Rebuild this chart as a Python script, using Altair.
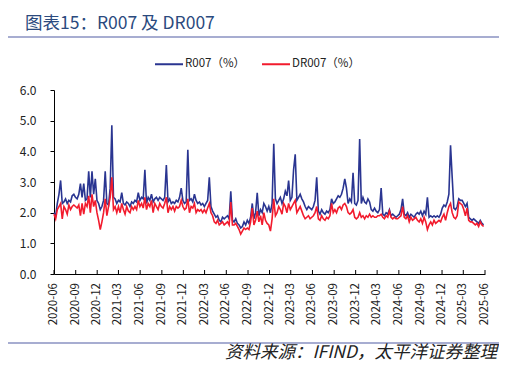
import altair as alt
import pandas as pd

# Weekly readings (from 2020-06-01), %
r007 = [
    2.0, 1.9, 2.3, 2.6, 3.05, 2.3, 2.35, 2.45, 2.3, 2.4, 2.35, 2.55, 2.6,
    2.5, 2.45, 2.6, 2.95, 2.5, 2.95, 2.4, 2.45, 3.35, 2.5, 3.35, 2.6, 3.1,
    2.4, 2.3, 2.1, 2.2, 2.4, 3.35, 2.3, 2.25, 2.8, 4.85, 2.5, 2.45, 2.3,
    2.4, 2.35, 2.65, 2.3, 2.25, 2.35, 2.3, 2.2, 2.35, 2.3, 2.4, 2.35, 2.65,
    2.4, 2.5, 2.45, 3.4, 2.3, 2.5, 2.4, 2.6, 2.35, 2.45, 2.5, 2.4, 2.5,
    2.45, 2.4, 2.5, 3.55, 2.35, 2.45, 2.3, 2.35, 2.3, 2.4, 2.35, 2.5, 2.8,
    2.4, 2.3, 2.35, 4.05, 2.4, 2.45, 2.35, 2.6, 2.4, 2.3, 2.35, 2.25, 2.3,
    2.2, 2.3, 2.4, 3.15, 2.2, 2.05, 1.95, 1.85, 1.9, 1.75, 1.7, 1.85, 1.8,
    1.85, 1.9, 1.8, 2.7, 1.75, 1.7, 1.8, 1.65, 1.6, 1.5, 1.55, 1.7, 1.6,
    1.75, 1.65, 1.85, 2.3, 1.8, 2.0, 2.65, 1.9, 2.1, 2.0, 2.3, 2.2, 2.05,
    2.2, 2.0, 2.3, 4.25, 2.45, 2.3, 2.4, 2.5, 2.3, 2.45, 2.7, 2.55, 3.05,
    2.4, 2.5, 3.4, 3.9, 2.4, 2.5, 2.6, 2.45, 2.35, 2.2, 2.1, 2.2, 2.15,
    2.1, 2.2, 2.4, 3.15, 2.05, 1.95, 2.1, 2.0, 1.95, 2.05, 2.0, 2.1, 2.45,
    2.3, 2.35, 2.45, 2.55, 2.5, 2.6, 2.8, 3.1, 2.8, 2.3, 2.45, 2.35, 3.3,
    2.3, 2.25, 2.4, 4.4, 2.3, 2.5, 2.35, 2.3, 2.45, 2.35, 2.1, 2.05, 2.15,
    2.05, 2.0, 2.1, 2.8, 1.95, 1.9, 2.0, 1.95, 2.1, 1.9, 1.95, 1.9, 1.85,
    1.9, 1.95, 2.1, 2.45, 1.95, 1.9, 2.0, 1.85, 1.95, 1.9, 1.85, 1.95, 2.0,
    1.95, 2.05, 1.9, 2.05, 1.95, 2.5, 1.85, 1.9, 1.85, 1.9, 1.85, 1.9, 1.85,
    1.95, 2.15, 2.25, 2.2, 2.35, 2.6, 4.2, 3.15, 2.15, 2.1, 2.2, 2.45, 2.4,
    2.4, 2.3, 2.2, 2.3, 1.85, 1.8, 1.75, 1.8, 1.75, 1.7, 1.65, 1.75, 1.65, 1.6,
]
dr007 = [
    1.95, 1.8, 2.1, 2.2, 2.3, 1.8, 2.2, 2.1, 1.95, 2.25, 2.1, 2.2, 2.25,
    2.2, 2.15, 2.25, 1.9, 2.3, 1.95, 2.3, 2.2, 2.55, 2.0, 2.6, 2.2, 2.4,
    2.0, 1.75, 1.45, 1.7, 2.0, 2.45, 1.9, 2.2, 2.5, 3.15, 2.1, 2.2, 2.0,
    2.2, 2.0, 2.3, 2.1, 1.95, 2.2, 2.05, 2.0, 2.2, 2.1, 2.2, 2.1, 2.4,
    2.2, 2.3, 2.15, 2.5, 2.1, 2.3, 2.2, 2.4, 2.0, 2.3, 2.2, 2.1, 2.3,
    2.2, 2.15, 2.3, 2.5, 2.0, 2.2, 2.1, 2.2, 2.05, 2.2, 2.15, 2.2, 2.4,
    2.2, 2.1, 2.15, 2.45, 2.0, 2.2, 2.15, 2.3, 2.0, 2.1, 2.05, 2.1, 2.0,
    2.1, 2.0, 2.15, 2.3, 2.0, 1.9, 1.7, 1.65, 1.75, 1.6, 1.65, 1.7, 1.6,
    1.65, 1.7, 1.6, 2.35, 1.6, 1.6, 1.65, 1.55, 1.45, 1.3, 1.4, 1.5, 1.45,
    1.5, 1.45, 1.7, 2.15, 1.6, 1.75, 2.05, 1.7, 1.9, 1.6, 2.0, 1.75, 1.65,
    1.6, 1.4, 1.8, 2.45, 1.9, 2.0, 2.2, 2.1, 1.95, 2.3, 2.2, 2.0, 2.3,
    2.1, 2.2, 2.3, 2.4, 2.0, 2.1, 2.2, 2.05, 1.9, 1.8, 1.85, 1.9, 1.8,
    1.85, 1.9, 2.0, 2.2, 1.8, 1.75, 1.9, 1.8, 1.75, 1.85, 1.8, 1.9, 2.3,
    2.0, 2.1, 2.0, 2.15, 2.2, 2.1, 2.25, 2.3, 2.2, 2.0, 1.95, 2.0, 2.1,
    1.85, 1.8, 1.85, 2.0, 1.85, 1.9, 1.8, 1.9, 1.85, 1.95, 1.85, 1.9, 1.85,
    1.85, 1.9, 1.9, 1.95, 1.85, 1.8, 1.9, 1.85, 2.05, 1.85, 1.8, 1.85, 1.8,
    1.8, 1.85, 1.9, 2.2, 1.85, 1.8, 1.9, 1.7, 1.85, 1.75, 1.8, 1.85, 1.75,
    1.7, 1.8, 1.65, 1.85, 1.7, 1.45, 1.6, 1.7, 1.6, 1.75, 1.65, 1.7, 1.75,
    1.7, 1.85, 1.95, 1.75, 2.0, 2.2, 2.3, 2.0, 1.85, 1.8, 1.9, 2.35, 2.3,
    2.25, 2.1, 1.9, 2.15, 1.75, 1.7, 1.7, 1.65, 1.6, 1.65, 1.55, 1.7, 1.6, 1.55,
]
tick_dates = [
    "2020-06-01", "2020-09-01", "2020-12-01", "2021-03-01", "2021-06-01",
    "2021-09-01", "2021-12-01", "2022-03-01", "2022-06-01", "2022-09-01",
    "2022-12-01", "2023-03-01", "2023-06-01", "2023-09-01", "2023-12-01",
    "2024-03-01", "2024-06-01", "2024-09-01", "2024-12-01", "2025-03-01",
    "2025-06-01",
]
tick_labels = [d[:7] for d in tick_dates]
series_names = ["R007（%）", "DR007（%）"]
series_colors = ["#2A3591", "#F21B2D"]

dates = pd.date_range("2020-06-01", periods=len(r007), freq="7D")
df_r = pd.DataFrame({"date": dates, "value": r007, "series": series_names[0]})
df_d = pd.DataFrame({"date": dates, "value": dr007, "series": series_names[1]})
ticks_df = pd.DataFrame({"date": pd.to_datetime(tick_dates), "label": tick_labels})

W, H = 431, 184
FONT = "Noto Sans CJK SC"

xscale = alt.Scale(domain=[tick_dates[0], tick_dates[-1]])
color = alt.Color(
    "series:N",
    scale=alt.Scale(domain=series_names, range=series_colors),
    legend=alt.Legend(
        title=None, orient="none", legendX=100, legendY=-41, direction="horizontal",
        symbolType="stroke", symbolSize=784, symbolStrokeWidth=2,
        labelFont=FONT, labelFontSize=11.5, labelColor="#222", labelOffset=1,
        columnPadding=12,
    ),
)
xenc = alt.X(
    "date:T", scale=xscale,
    axis=alt.Axis(
        title=None, values=tick_dates, ticks=False, labels=False,
        domainColor="#000", grid=False,
    ),
)
yenc = alt.Y(
    "value:Q", scale=alt.Scale(domain=[0, 6]),
    axis=alt.Axis(
        title=None, values=[0, 1, 2, 3, 4, 5, 6], format=".1f", tickSize=4,
        tickColor="#000", domainColor="#000", labelPadding=14, labelFont=FONT,
        labelFontSize=12, labelColor="#222", grid=False,
    ),
)

line_r = alt.Chart(df_r).mark_line(strokeWidth=1.6).encode(x=xenc, y=yenc, color=color)
line_d = alt.Chart(df_d).mark_line(strokeWidth=1.6).encode(x=xenc, y=yenc, color=color)

xticks = alt.Chart(ticks_df).mark_rule(color="#000", strokeWidth=1).encode(
    x=alt.X("date:T", scale=xscale), y=alt.value(H - 4), y2=alt.value(H)
)
xlabels = alt.Chart(ticks_df).mark_text(
    angle=270, align="right", baseline="middle", font=FONT, fontSize=11.5, color="#222"
).encode(x=alt.X("date:T", scale=xscale), y=alt.value(H + 9), text="label:N")

one = alt.Data(values=[{"k": 1}])
top_line = alt.Chart(one).mark_rule(color="#8A92C2", strokeWidth=1.5).encode(
    x=alt.value(-46), x2=alt.value(448), y=alt.value(-53)
)
bottom_line = alt.Chart(one).mark_rule(color="#8A92C2", strokeWidth=1.5).encode(
    x=alt.value(-46), x2=alt.value(448), y=alt.value(253)
)
title = alt.Chart(one).mark_text(
    align="left", baseline="alphabetic", font=FONT, fontSize=17.5, color="#2B4A7E"
).encode(x=alt.value(-29), y=alt.value(-61), text=alt.value("图表15：R007 及 DR007"))
source = alt.Chart(one).mark_text(
    align="right", baseline="alphabetic", font=FONT, fontSize=17.5, fontStyle="italic",
    color="#222",
).encode(x=alt.value(443), y=alt.value(268), text=alt.value("资料来源：IFIND，太平洋证券整理"))

chart = alt.layer(
    line_r, line_d, xticks, xlabels, top_line, bottom_line, title, source
).properties(
    width=W, height=H,
    autosize=alt.AutoSizeParams(type="none"),
    padding={"left": 46, "top": 82, "right": 14, "bottom": 89},
).configure_view(stroke=None)

chart.save("out.html", embed_options={"renderer": "svg", "actions": False})
